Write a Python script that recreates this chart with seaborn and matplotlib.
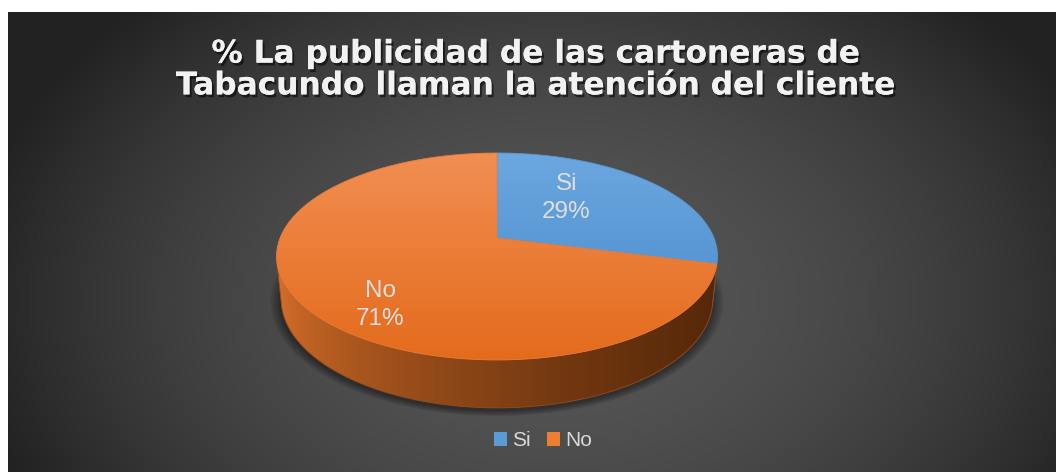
import numpy as np
import matplotlib
matplotlib.use("Agg")
import matplotlib.pyplot as plt
import seaborn as sns
from matplotlib.patches import Polygon, Rectangle
import matplotlib.patheffects as pe
from matplotlib.colors import to_rgb

# ---------------- data ----------------
categories = ["Si", "No"]
values = [29, 71]
title_text = "% La publicidad de las cartoneras de\nTabacundo llaman la atención del cliente"

# ---------------- style ----------------
legend_colors = ["#5B9BD5", "#ED7D31"]
top_light = ["#6CA7E0", "#F18E52"]
top_dark = ["#4588C9", "#E46B1C"]
side_light = ["#3F77AE", "#D9702A"]
side_dark = ["#1F4466", "#552809"]

sns.set_theme(style="white")
plt.rcParams["font.family"] = ["Liberation Sans", "DejaVu Sans"]

W, H = 1056, 472
fig = plt.figure(figsize=(W / 100, H / 100), dpi=100)
fig.patch.set_facecolor("white")
ax = fig.add_axes([0, 0, 1, 1])

# ---------------- background (radial gradient) ----------------
bx0, by0 = 8, 12
gy, gx = np.mgrid[by0:H, bx0:W] + 0.5
r = np.sqrt(((gx - 555) / 560) ** 2 + ((gy - 300) / 390) ** 2)
fr = np.clip(r, 0, 1.2) ** 1.85
v = np.clip(86 - 47 * fr, 34, 90) / 255
bg = np.dstack([v, v, v])
ax.imshow(bg, extent=(bx0, W, H, by0), aspect="auto", zorder=0,
          interpolation="bilinear")

# ---------------- 3D pie projection ----------------
f_, D, elev = 1078.0, 4.97, np.radians(27.5)
se, ce = np.sin(elev), np.cos(elev)
CX, CY, TH = 497.0, 238.0, 0.223


def proj(x, yw, z):
    Y = yw * se + z * ce
    Z = D + yw * ce - z * se
    return CX + f_ * x / Z, CY - f_ * Y / Z


def rim(t_deg, z):
    t = np.radians(t_deg)
    return proj(np.cos(t), np.sin(t), z)


vals = np.array(values, float)
frac = vals / vals.sum()
ends = 90 - 360 * np.cumsum(frac)
starts = np.concatenate([[90.0], ends[:-1]])

s_lim = -1.0 / (D * ce)
a_lim = np.degrees(np.arcsin(s_lim))          # negative
vis_hi, vis_lo = a_lim, -180 - a_lim           # visible side angles (hi > lo)

# shadow under pie
tt = np.linspace(0, 360, 361)
bxs, bys = rim(tt, -TH)
bcx, bcy = bxs.mean(), bys.mean()
for k in range(10):
    s = 1.0 + 0.005 * (k + 1)
    ax.fill(bcx + (bxs - bcx) * s, bcy + (bys - bcy) * s + 2.5,
            color="black", alpha=0.045, lw=0, zorder=1)


def grad_fill(poly_xy, c0, c1, axis, lo, hi, power=1.0, zorder=2):
    c0 = np.array(to_rgb(c0)); c1 = np.array(to_rgb(c1))
    xs, ys = poly_xy[:, 0], poly_xy[:, 1]
    x0, x1 = xs.min() - 2, xs.max() + 2
    y0, y1 = ys.min() - 2, ys.max() + 2
    nx, ny = 300, 200
    gxx = np.linspace(x0, x1, nx)
    gyy = np.linspace(y0, y1, ny)
    GX, GY = np.meshgrid(gxx, gyy)
    coord = GX if axis == "x" else GY
    t = np.clip((coord - lo) / (hi - lo), 0, 1) ** power
    img = c0[None, None, :] * (1 - t[..., None]) + c1[None, None, :] * t[..., None]
    im = ax.imshow(img, extent=(x0, x1, y1, y0), aspect="auto",
                   zorder=zorder, interpolation="bilinear")
    patch = Polygon(poly_xy, closed=True, facecolor="none", edgecolor="none",
                    transform=ax.transData)
    im.set_clip_path(patch)
    ax.add_patch(Polygon(poly_xy, closed=True, facecolor="none",
                         edgecolor=tuple((c0 + c1) / 2), lw=0.6, zorder=zorder))


# sides (front, visible part only)
for i in range(len(vals)):
    a, b = starts[i], ends[i]         # a > b (clockwise)
    hi = min(a, vis_hi)
    lo = max(b, vis_lo)
    if hi - lo <= 0.05:
        continue
    t = np.linspace(hi, lo, 200)
    tx, ty = rim(t, 0.0)
    bx, by = rim(t[::-1], -TH)
    poly = np.column_stack([np.concatenate([tx, bx]), np.concatenate([ty, by])])
    grad_fill(poly, side_light[i], side_dark[i], "x", 278, 717, power=0.6, zorder=2)

# top faces
ax_, ay_ = proj(0.0, 0.0, 0.0)
for i in range(len(vals)):
    t = np.linspace(starts[i], ends[i], 300)
    tx, ty = rim(t, 0.0)
    poly = np.column_stack([np.concatenate([[ax_], tx]), np.concatenate([[ay_], ty])])
    grad_fill(poly, top_light[i], top_dark[i], "y", 153, 360, zorder=3)

# ---------------- data labels ----------------
label_pos = [(566.5, 198.0), (380.5, 305.0)]
for i, (lx, ly) in enumerate(label_pos):
    ax.text(lx, ly, f"{categories[i]}\n{values[i]}%", ha="center", va="center",
            fontsize=17.5, color="#DEDEDE", linespacing=1.3, zorder=5)

# ---------------- title ----------------
ax.text(536, 70, title_text, ha="center", va="center", fontsize=22.5,
        fontweight="bold", family=["DejaVu Sans"], color="#F2F2F2",
        linespacing=1.12, zorder=6,
        path_effects=[pe.withSimplePatchShadow(offset=(1.5, -2), shadow_rgbFace="black",
                                               alpha=0.55), pe.Normal()])

# ---------------- legend ----------------
handles = [Rectangle((0, 0), 1, 1, facecolor=legend_colors[i], edgecolor="none")
           for i in range(len(categories))]
leg = ax.legend(handles, categories, loc="center", bbox_to_anchor=(543 / W, 1 - 441 / H),
                ncol=2, frameon=False, fontsize=15, labelcolor="#D9D9D9",
                handlelength=0.62, handleheight=0.62, handletextpad=0.25,
                columnspacing=0.75, borderpad=0, borderaxespad=0)
leg.set_zorder(7)

ax.set_xlim(0, W)
ax.set_ylim(H, 0)
ax.axis("off")

fig.savefig("out.png", dpi=100, facecolor="white")
